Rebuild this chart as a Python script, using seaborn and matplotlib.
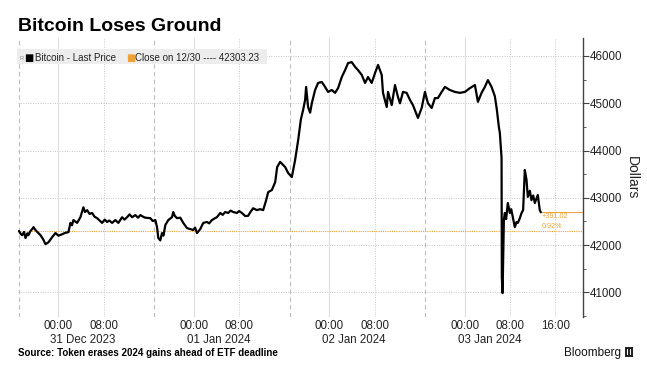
import pandas as pd
import matplotlib
matplotlib.use("Agg")
import matplotlib.pyplot as plt
import matplotlib.dates as mdates
from matplotlib.patches import Rectangle
from matplotlib.ticker import MultipleLocator
import seaborn as sns

# --- data (hours after 2023-12-31 00:00, price in USD) ---
hours_a = [-7.0, -6.7, -6.42, -6.1, -5.84, -5.5, -5.31, -5.0, -4.65, -4.42, -4.07, -3.6, -3.18, -2.7, -2.3,
           -1.77, -1.4, -1.11, -0.53, 0.0, 0.65, 1.2, 1.77, 2.12, 2.4, 2.65, 3.31, 3.89, 4.42, 4.7,
           5.08, 5.5, 5.96, 6.4, 6.85, 7.3, 7.73, 8.2, 8.61, 9.0, 9.5, 10.08, 10.61, 11.27, 11.7]
prices_a = [42300, 42240, 42210, 42280, 42150, 42250, 42210, 42290, 42340, 42380, 42320, 42260, 42210, 42120, 42020,
            42060, 42120, 42170, 42255, 42200, 42230, 42260, 42275, 42470, 42420, 42530, 42470, 42590, 42800, 42700,
            42740, 42660, 42680, 42600, 42570, 42520, 42470, 42540, 42490, 42520, 42470, 42530, 42470, 42590, 42540]

hours_b = [12.15, 12.6, 13.04, 13.62, 14.1, 14.51, 15.0, 15.39, 16.27, 16.7, 17.16, 17.46, 17.69, 18.04, 18.34,
           18.6, 18.93, 19.46, 20.11, 20.34, 20.6, 21.0, 21.58, 22.11, 22.4, 22.77, 23.35, 23.88, 24.2, 24.54,
           25.12, 25.65, 26.3, 26.7, 27.19, 27.6, 28.07, 28.66, 29.1, 29.54, 30.07, 30.5, 30.96, 31.61, 32.0,
           32.5, 33.08, 33.61, 34.0, 34.49, 35.15, 35.7, 36.26]
prices_b = [42590, 42650, 42590, 42635, 42580, 42635, 42600, 42580, 42570, 42510, 42530, 42380, 42150, 42100, 42255,
            42200, 42425, 42530, 42590, 42700, 42620, 42570, 42580, 42470, 42420, 42360, 42340, 42320, 42370, 42255,
            42340, 42470, 42490, 42460, 42530, 42560, 42590, 42680, 42640, 42700, 42680, 42730, 42700, 42680, 42720,
            42680, 42615, 42620, 42700, 42780, 42740, 42760, 42740]

hours_c = [36.79, 37.15, 37.8, 38.39, 38.74, 39.27, 39.75, 40.16, 40.69, 41.34, 41.92, 42.46, 42.93, 43.34, 43.69,
           43.87, 44.22, 44.58, 44.88, 45.46, 45.99, 46.65, 47.23, 47.76, 48.42, 49.0, 49.53, 50.19, 50.77, 51.3,
           51.95, 52.54, 53.07, 53.72, 54.31, 54.84, 55.49, 56.08, 56.61, 57.26, 57.49, 58.15, 58.38, 59.03, 59.61]
prices_c = [42950, 43120, 43165, 43330, 43650, 43760, 43700, 43650, 43525, 43440, 43800, 44220, 44650, 44860, 45070,
            45345, 44920, 44800, 45000, 45280, 45430, 45450, 45345, 45240, 45280, 45220, 45320, 45555, 45700, 45850,
            45870, 45770, 45700, 45600, 45430, 45555, 45430, 45640, 45810, 45600, 45220, 44920, 45240, 44960, 45385]

hours_d = [60.15, 60.5, 61.03, 61.68, 62.27, 62.8, 63.68, 64.34, 64.92, 65.45, 66.11, 66.69, 67.22, 67.88, 68.46,
           69.34, 70.23, 71.11, 72.0, 72.88, 73.77, 74.3, 74.95, 75.53, 76.07, 76.72, 77.3, 77.66, 78.01, 78.19, 78.49]
prices_d = [45130, 45000, 45240, 45220, 45070, 44960, 44690, 44900, 45240, 45000, 44900, 45110, 45110, 45240, 45345,
            45280, 45240, 45220, 45240, 45320, 45385, 45030, 45220, 45345, 45490, 45345, 45150, 44860, 44500, 44370, 43840]

hours_e = [78.54, 78.67, 78.9, 79.07, 79.3, 79.6, 79.96, 80.2, 80.49, 80.84, 81.14, 81.37, 81.7, 82.03, 82.31,
           82.61, 82.91, 83.14, 83.5, 83.79, 84.1, 84.38, 84.91, 85.26, 85.44]
prices_e = [41320, 40985, 42530, 42680, 42550, 42890, 42680, 42760, 42590, 42380, 42490, 42470, 42560, 42680, 42740,
            43590, 43380, 43020, 43150, 42950, 43050, 42890, 43060, 42740, 42694.25]

close_price = 42303.23
change_text = "+391.02"
change_pct_text = "0.92%"

time_ticks = ["2023-12-31 00:00", "2023-12-31 08:00", "2024-01-01 00:00", "2024-01-01 08:00",
              "2024-01-02 00:00", "2024-01-02 08:00", "2024-01-03 00:00", "2024-01-03 08:00", "2024-01-03 16:00"]
date_labels = ["31 Dec 2023", "01 Jan 2024", "02 Jan 2024", "03 Jan 2024"]
date_label_pos = ["2023-12-31 04:20", "2024-01-01 04:20", "2024-01-02 04:20", "2024-01-03 04:20"]
session_breaks = ["2023-12-30 17:00", "2023-12-31 17:00", "2024-01-01 17:00", "2024-01-02 17:00"]

base = pd.Timestamp("2023-12-31 00:00")
hours = hours_a + hours_b + hours_c + hours_d + hours_e
prices = prices_a + prices_b + prices_c + prices_d + prices_e
df = pd.DataFrame({"time": base + pd.to_timedelta(hours, unit="h"), "price": prices})

ORANGE = "#eea235"
W, H = 647, 371

sns.set_theme(style="white")
plt.rcParams["font.family"] = ["Liberation Sans", "DejaVu Sans"]

fig = plt.figure(figsize=(W / 100, H / 100), dpi=100)
ax = fig.add_axes([18 / W, 1 - 317 / H, (583 - 18) / W, (317 - 38) / H])

x_left = pd.Timestamp("2023-12-30 16:50")
x_right = pd.Timestamp("2024-01-03 20:55")

# grid lines
for p in range(41000, 46001, 1000):
    ax.axhline(p, color="#c4c4c4", lw=0.7, ls=(0, (1, 1.5)), zorder=0)
for t in time_ticks:
    ts = pd.Timestamp(t)
    if ts.hour == 0:
        ax.axvline(ts, color="#dedede", lw=0.8, zorder=0)
    else:
        ax.axvline(ts, color="#c8c8c8", lw=0.7, ls=(0, (1, 1.5)), zorder=0)
for t in session_breaks:
    ax.axvline(pd.Timestamp(t), color="#bdbdbd", lw=0.8, ls=(0, (4, 3)), zorder=0)

# close reference lines
ax.axhline(close_price, color=ORANGE, lw=0.8, ls=(0, (1, 1)), zorder=1)
last_time = df["time"].iloc[-1]
last_price = df["price"].iloc[-1]
ax.plot([last_time, x_right], [last_price, last_price], color=ORANGE, lw=0.7, zorder=1)

sns.lineplot(data=df, x="time", y="price", color="black", lw=1.6, estimator=None, ax=ax, zorder=3)

ax.text(last_time + pd.Timedelta(minutes=10), 42614, change_text, color=ORANGE, fontsize=5.2, va="center")
ax.text(last_time + pd.Timedelta(minutes=10), 42403, change_pct_text, color=ORANGE, fontsize=5.2, va="center")

ax.set_xlim(x_left, x_right)
ax.set_ylim(40480, 46380)
ax.set_xlabel("")
ax.set_ylabel("Dollars", rotation=270, labelpad=12, fontsize=10, color="#222")
ax.yaxis.set_label_position("right")
ax.yaxis.tick_right()
ax.set_yticks(range(41000, 46001, 1000))
ax.yaxis.set_minor_locator(MultipleLocator(500))
ax.tick_params(axis="y", which="major", length=4, width=0.8, color="#444", labelsize=8.3,
               labelcolor="#222", pad=1, right=True, left=False)
ax.tick_params(axis="y", which="minor", length=2.5, width=0.6, color="#444", right=True, left=False)

ax.set_xticks([])
xt = ax.get_xaxis_transform()
for t in time_ticks:
    ax.text(pd.Timestamp(t), -0.043, pd.Timestamp(t).strftime("%H:%M"), transform=xt,
            ha="center", va="baseline", fontsize=8.3, color="#222")
for lbl, t in zip(date_labels, date_label_pos):
    ax.text(pd.Timestamp(t), -0.093, lbl, transform=xt, ha="center", va="baseline", fontsize=8.3, color="#222")

for s in ["left", "top", "bottom"]:
    ax.spines[s].set_visible(False)
ax.spines["right"].set_color("#444")
ax.spines["right"].set_linewidth(1.0)
ax.grid(False)

# title, legend band, footer
fig.text(18 / W, 1 - 31 / H, "Bitcoin Loses Ground", fontsize=14, fontweight="bold", color="black", va="baseline")

fig.patches.append(Rectangle((17 / W, 1 - 64 / H), 250 / W, 15 / H, transform=fig.transFigure,
                             facecolor="#ededed", edgecolor="none", zorder=5))
fig.text(19 / W, 1 - 60 / H, "R", fontsize=4, color="#888", va="baseline", zorder=6)
fig.text(24 / W, 1 - 61 / H, "\u25a0", fontsize=7, color="black", va="baseline", zorder=6,
         family=["DejaVu Sans"])
fig.text(35 / W, 1 - 61 / H, "Bitcoin - Last Price", fontsize=7, color="#222", va="baseline", zorder=6)
fig.text(126 / W, 1 - 61 / H, "\u25a0", fontsize=7, color=ORANGE, va="baseline", zorder=6,
         family=["DejaVu Sans"])
fig.text(135 / W, 1 - 61 / H, "Close on 12/30 ---- 42303.23", fontsize=7, color="#222", va="baseline", zorder=6)

fig.text(18 / W, 1 - 356 / H, "Source: Token erases 2024 gains ahead of ETF deadline", fontsize=7,
         fontweight="bold", color="black", va="baseline")
fig.text(621 / W, 1 - 356 / H, "Bloomberg", fontsize=8.5, color="#111", ha="right", va="baseline")
fig.patches.append(Rectangle((625 / W, 1 - 357 / H), 8 / W, 10 / H, transform=fig.transFigure,
                             facecolor="#222", edgecolor="none"))
fig.patches.append(Rectangle((627 / W, 1 - 355 / H), 1.3 / W, 6 / H, transform=fig.transFigure,
                             facecolor="white", edgecolor="none"))
fig.patches.append(Rectangle((630 / W, 1 - 355 / H), 1.3 / W, 6 / H, transform=fig.transFigure,
                             facecolor="white", edgecolor="none"))

fig.savefig("out.png", dpi=100)
